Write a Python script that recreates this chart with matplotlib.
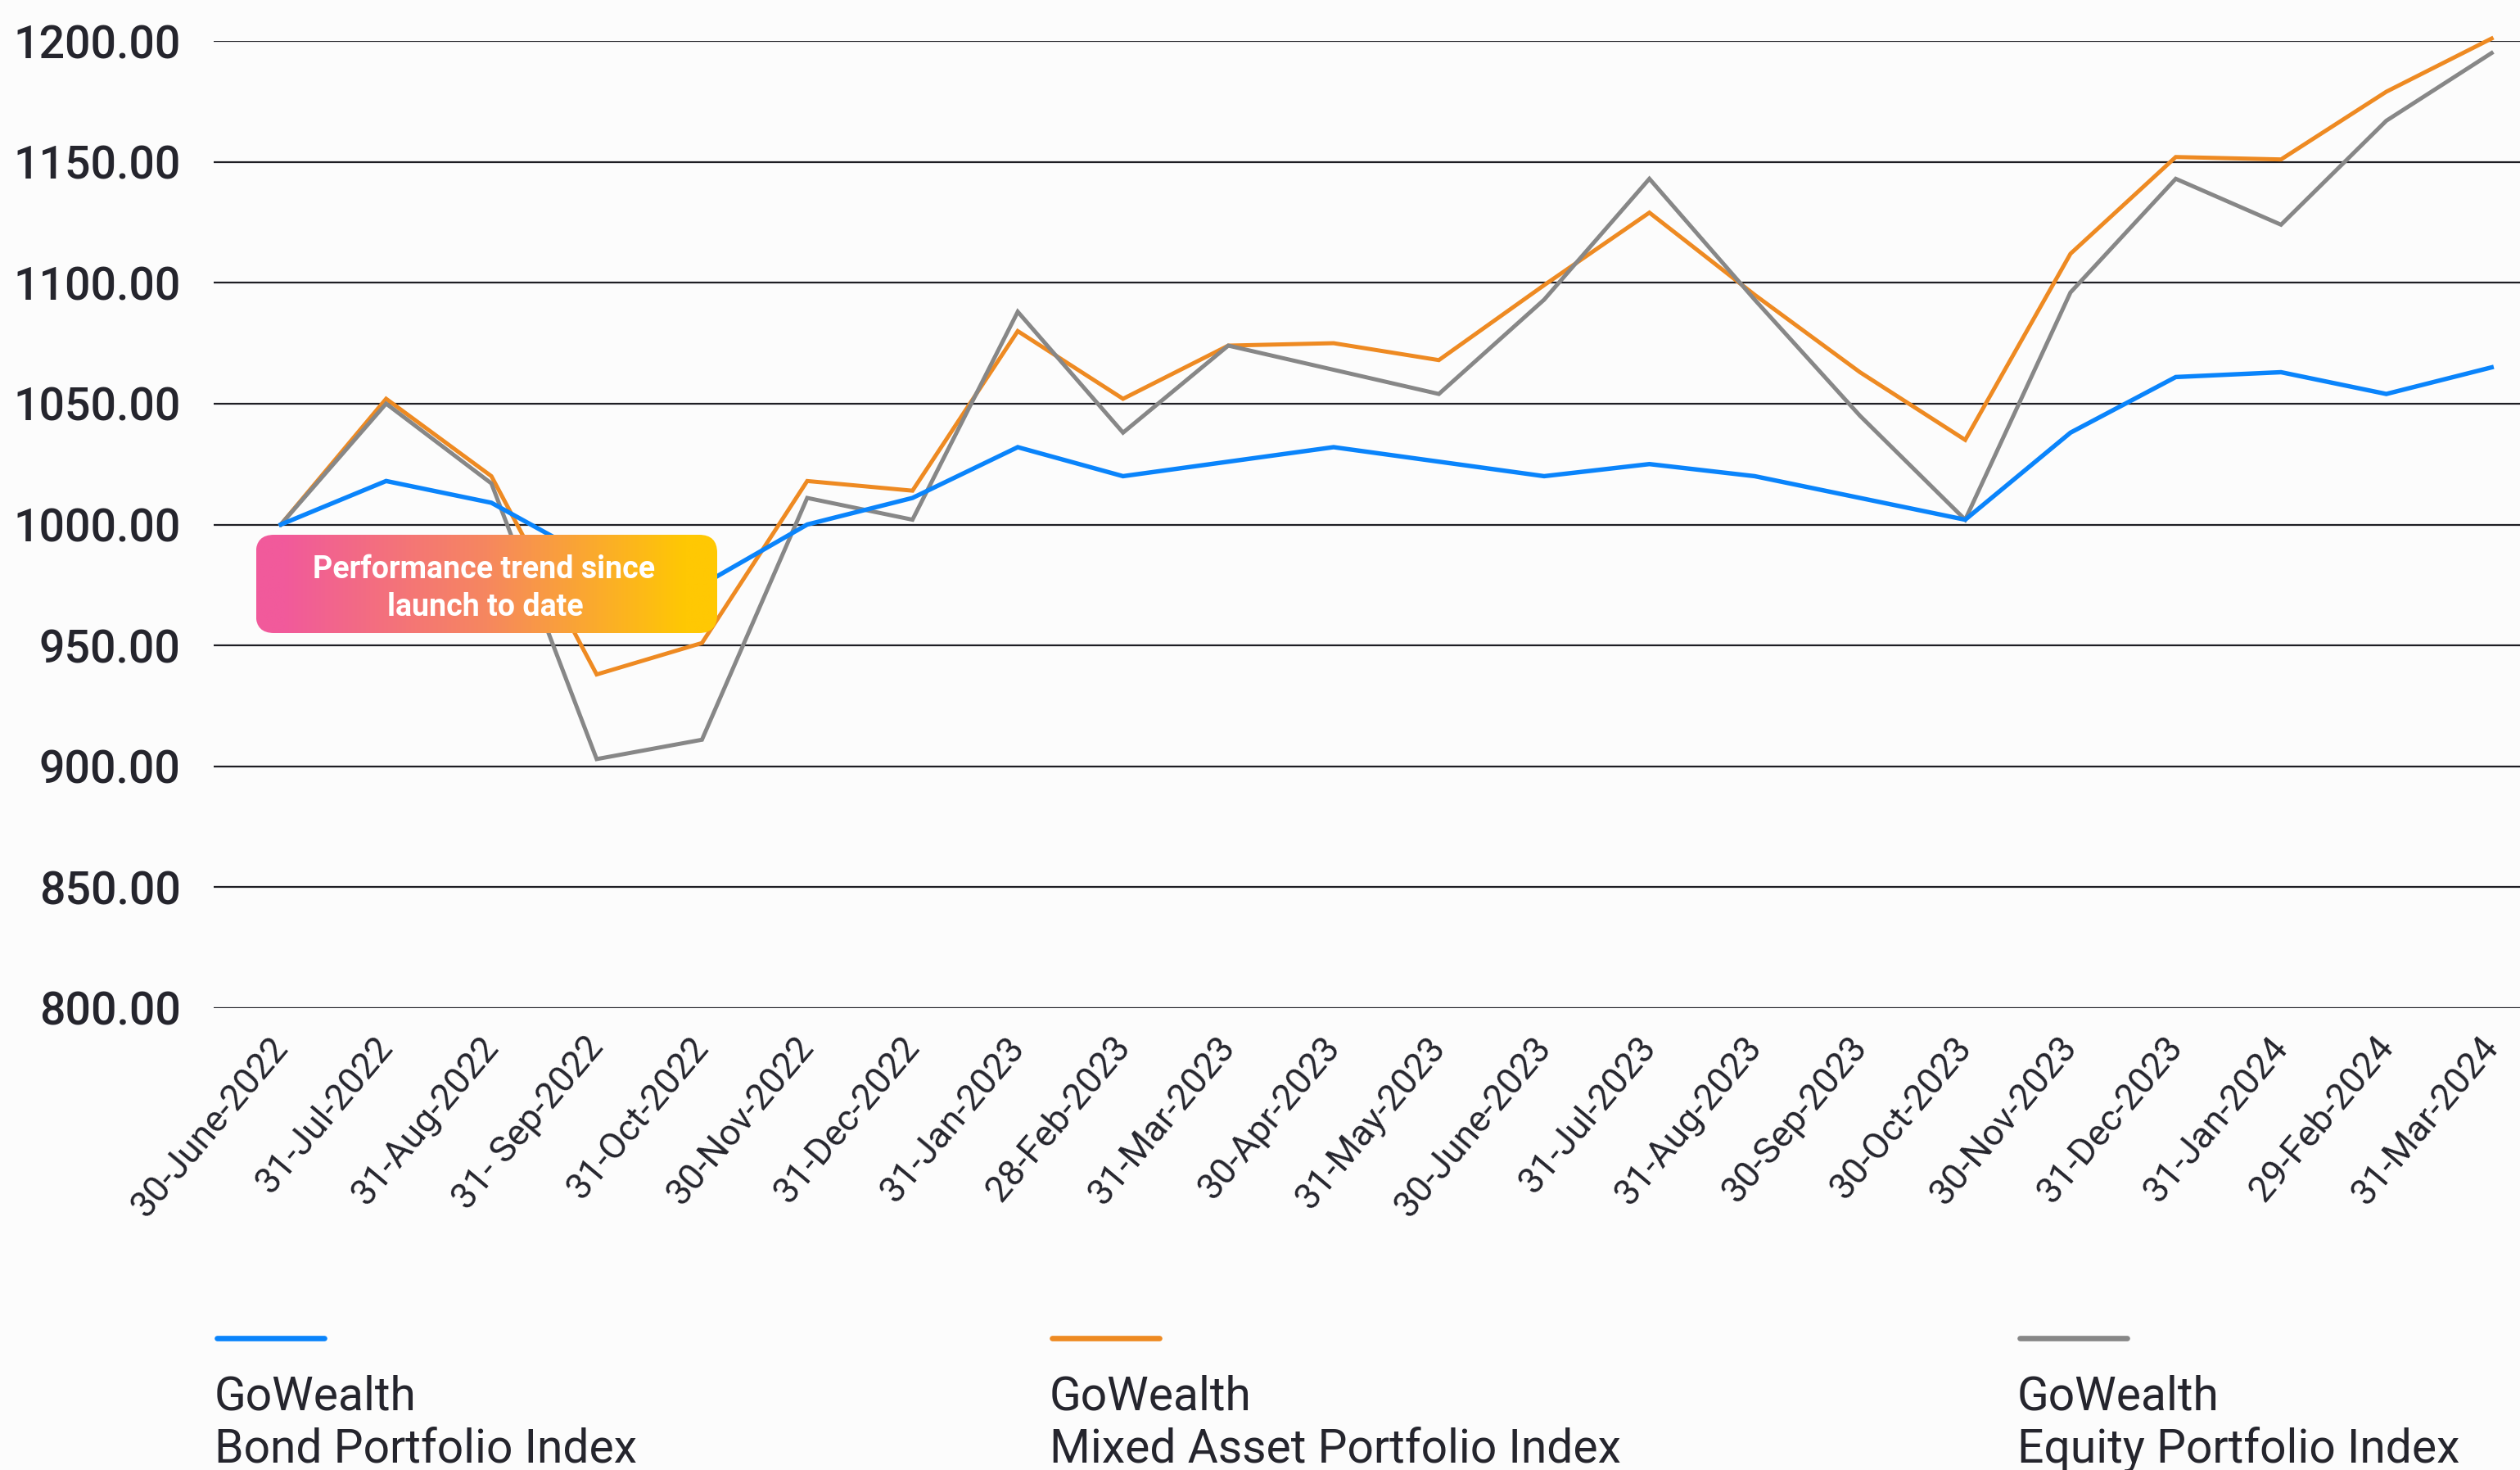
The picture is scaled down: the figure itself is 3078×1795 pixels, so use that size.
import matplotlib
matplotlib.use("Agg")
import matplotlib.pyplot as plt
import numpy as np
from matplotlib.patches import FancyBboxPatch
from matplotlib.lines import Line2D
from matplotlib.colors import LinearSegmentedColormap
from matplotlib.transforms import ScaledTranslation

plt.rcParams['font.family'] = ['Roboto', 'DejaVu Sans']

dates = ["30-June-2022", "31-Jul-2022", "31-Aug-2022", "31- Sep-2022", "31-Oct-2022",
         "30-Nov-2022", "31-Dec-2022", "31-Jan-2023", "28-Feb-2023", "31-Mar-2023",
         "30-Apr-2023", "31-May-2023", "30-June-2023", "31-Jul-2023", "31-Aug-2023",
         "30-Sep-2023", "30-Oct-2023", "30-Nov-2023", "31-Dec-2023", "31-Jan-2024",
         "29-Feb-2024", "31-Mar-2024"]
bond = [1000, 1018, 1009, 985, 975, 1000, 1011, 1032, 1020, 1026, 1032,
        1026, 1020, 1025, 1020, 1011, 1002, 1038, 1061, 1063, 1054, 1065]
mixed = [1000, 1052, 1020, 938, 951, 1018, 1014, 1080, 1052, 1074, 1075,
         1068, 1099, 1129, 1095, 1063, 1035, 1112, 1152, 1151, 1179, 1201]
equity = [1000, 1050, 1017, 903, 911, 1011, 1002, 1088, 1038, 1074, 1064,
          1054, 1093, 1143, 1093, 1045, 1002, 1096, 1143, 1124, 1167, 1195]
yticks = [800, 850, 900, 950, 1000, 1050, 1100, 1150, 1200]
series_names = [("GoWealth", "Bond Portfolio Index"),
                ("GoWealth", "Mixed Asset Portfolio Index"),
                ("GoWealth", "Equity Portfolio Index")]
annotation = "Performance trend since\nlaunch to date"

BLUE = "#0a84fb"
ORANGE = "#ee8a22"
GRAY = "#878787"
TXT = "#25252d"
BG = "#fcfcfc"

W, H = 3078, 1795
fig = plt.figure(figsize=(W / 100, H / 100), dpi=100, facecolor=BG)

ax_l, ax_r, ax_t, ax_b = 261, 3078, 50, 1231
ax = fig.add_axes([ax_l / W, 1 - ax_b / H, (ax_r - ax_l) / W, (ax_b - ax_t) / H])
ax.set_facecolor(BG)

x = np.arange(len(dates))
ax.plot(x, mixed, color=ORANGE, lw=3.6, zorder=3, clip_on=False, solid_joinstyle='miter')
ax.plot(x, equity, color=GRAY, lw=3.6, zorder=4, clip_on=False, solid_joinstyle='miter')
ax.plot(x, bond, color=BLUE, lw=3.9, zorder=5, clip_on=False, solid_joinstyle='miter')

ax.set_ylim(800, 1200)
ax.set_xlim(-0.638, 21.27)
ax.set_yticks(yticks)
ax.set_yticklabels([f"{v:.2f}" for v in yticks], fontsize=40, color=TXT, fontweight='medium')
ax.yaxis.grid(True, color="#1e1e24", lw=1.6, zorder=1)
ax.set_axisbelow(True)
for s in ax.spines.values():
    s.set_visible(False)
ax.tick_params(axis='y', length=0, pad=29)
ax.set_xticks(x)
ax.set_xticklabels(dates, rotation=50, ha='right', va='top',
                   rotation_mode='anchor', fontsize=32, color=TXT)
ax.tick_params(axis='x', length=0, pad=21)
shift = ScaledTranslation(-0.15, 0.02, fig.dpi_scale_trans)
for lab in ax.get_xticklabels():
    lab.set_transform(lab.get_transform() + shift)

# gradient annotation box
bx0, bx1, by0, by1 = 312.6, 876, 653, 773
bw, bh = bx1 - bx0, by1 - by0
bax = fig.add_axes([bx0 / W, 1 - by1 / H, bw / W, bh / H])
bax.set_xlim(0, bw)
bax.set_ylim(0, bh)
bax.axis('off')
cmap = LinearSegmentedColormap.from_list(
    "g", [(0, "#f15a9b"), (0.06, "#f15a9b"), (0.5, "#f6875f"), (0.93, "#ffc803"), (1, "#ffc803")])
grad = np.linspace(0, 1, 512).reshape(1, -1)
im = bax.imshow(grad, cmap=cmap, extent=[0, bw, 0, bh], aspect='auto', zorder=1)
patch = FancyBboxPatch((0, 0), bw, bh, boxstyle="round,pad=0,rounding_size=22",
                       transform=bax.transData, facecolor='none', edgecolor='none')
bax.add_patch(patch)
im.set_clip_path(patch)
lines = annotation.split("\n")
bax.text(278, 77, lines[0], ha='center', va='center', color='white',
         fontsize=27, fontweight='bold', zorder=3)
bax.text(280, 31, lines[1], ha='center', va='center', color='white',
         fontsize=27, fontweight='bold', zorder=3)

# legend
leg_x = [262, 1282, 2464]
colors = [BLUE, ORANGE, GRAY]
for lx, c, (n1, n2) in zip(leg_x, colors, series_names):
    fig.add_artist(Line2D([(lx + 3) / W, (lx + 134) / W], [1 - 1634 / H, 1 - 1634 / H],
                          color=c, lw=4.8, solid_capstyle='round', transform=fig.transFigure))
    fig.text(lx / W, 1 - 1721.6 / H, n1, fontsize=41, color=TXT, va='baseline', ha='left')
    fig.text(lx / W, 1 - 1785 / H, n2, fontsize=41, color=TXT, va='baseline', ha='left')

fig.savefig("out.png", dpi=100, facecolor=BG)
